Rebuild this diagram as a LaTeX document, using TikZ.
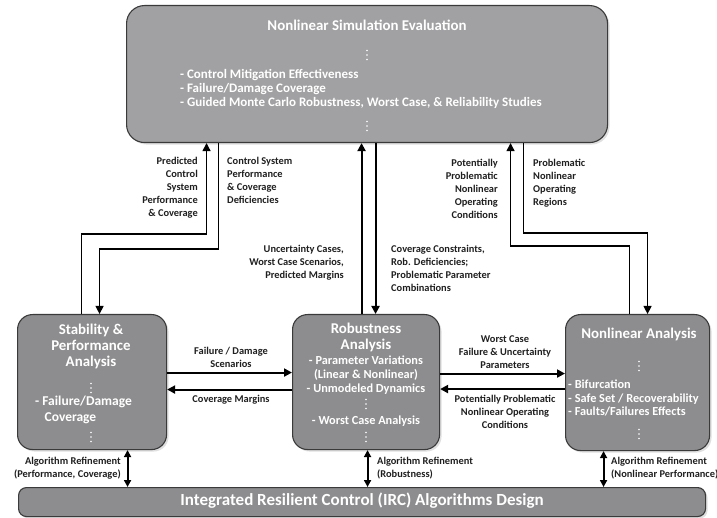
\documentclass[tikz,border=0pt]{standalone}
\usepackage{fontspec}
\setmainfont{Carlito}
\usetikzlibrary{arrows.meta,shadows}

\definecolor{paneltop}{RGB}{161,161,163}
\definecolor{panellow}{RGB}{141,141,143}
\definecolor{panelrim}{RGB}{58,58,58}

\def\labfont{\fontsize{10.4}{13}\selectfont\bfseries}
\def\headfont{\fontsize{14.9}{16}\selectfont\bfseries}
\def\itemfont{\fontsize{12.3}{14}\selectfont\bfseries}

\tikzset{
	panel/.style={draw=panelrim, line width=1.1pt, fill=panellow, rounded corners=15pt, inner sep=0pt, anchor=north west,
		drop shadow={opacity=0.25, shadow xshift=2pt, shadow yshift=-2pt}},
	intext/.style={text=white, inner sep=0pt},
	lab/.style={text=black!88, inner sep=0pt, font=\labfont},
	flow/.style={line width=2pt, -{Triangle[length=8pt,width=8pt]}},
	loop/.style={line width=1.3pt, -{Triangle[length=8pt,width=8pt]}},
	both/.style={line width=2pt, {Triangle[length=7pt,width=7pt]}-{Triangle[length=7pt,width=7pt]}},
	ellip/.pic={\foreach \d in {-4.5,0,4.5} \fill[white] (0,\d) circle (0.9);}
}

\begin{document}
\begin{tikzpicture}[x=1pt, y=-1pt]
			%%%%% START %%%%%
			\useasboundingbox (0,0) rectangle (717,518);
			
			\node[panel, fill=paneltop, rounded corners=18pt, minimum width=481pt, minimum height=137pt] (sim) at (126,5) {};
			\node[panel, minimum width=149pt, minimum height=135pt] (stab) at (17,314) {};
			\node[panel, minimum width=147pt, minimum height=135pt] (rob) at (292,314) {};
			\node[panel, minimum width=144pt, minimum height=136pt] (nla) at (565,314) {};
			\node[panel, rounded corners=8pt, minimum width=687pt, minimum height=29pt] (irc) at (18,487) {};
			
			% simulation panel
			\node[intext, font=\fontsize{14.9}{16}\selectfont\bfseries] (simhead) at (367,25) {Nonlinear Simulation Evaluation};
			\pic at (367,55) {ellip};
			\node[intext, anchor=north west, align=left, font=\fontsize{13}{14}\selectfont\bfseries] (simlist) at (180,69)
				{- Control Mitigation Effectiveness\\- Failure/Damage Coverage\\- Guided Monte Carlo Robustness, Worst Case, \& Reliability Studies};
			\pic at (367,126) {ellip};
			
			% stability panel
			\node[intext, anchor=north, align=center, font=\headfont] (stabhead) at (91,324) {Stability \&\\Performance\\Analysis};
			\pic at (91,388) {ellip};
			\node[intext, anchor=north west, align=left, font=\fontsize{13.5}{16}\selectfont\bfseries] (stablist) at (35,396) {- Failure/Damage\\\hspace*{0.7em}Coverage};
			\pic at (91,437) {ellip};
			
			% robustness panel
			\node[intext, anchor=north, align=center, font=\headfont] (robhead) at (366,323) {Robustness\\Analysis};
			\node[intext, anchor=north, align=center, font=\itemfont] (roblist) at (366,356)
				{- Parameter Variations\\(Linear \& Nonlinear)\\- Unmodeled Dynamics};
			\pic at (366,404) {ellip};
			\node[intext, font=\itemfont] (robworst) at (366,421) {- Worst Case Analysis};
			\pic at (366,437) {ellip};
			
			% nonlinear panel
			\node[intext, font=\headfont] (nlahead) at (639,334) {Nonlinear Analysis};
			\pic at (639,366) {ellip};
			\node[intext, anchor=north west, align=left, font=\fontsize{12.3}{13.5}\selectfont\bfseries] (nlalist) at (568,380)
				{- Bifurcation\\- Safe Set / Recoverability\\- Faults/Failures Effects};
			\pic at (639,434) {ellip};
			
			\node[intext, font=\fontsize{17}{18}\selectfont\bfseries] (irchead) at (362,501) {Integrated Resilient Control (IRC) Algorithms Design};
			
			% loops up and down
			\draw[loop] ([xshift=-10.5pt]stab.north) -- ++(0,-80) -| ([xshift=-160.5pt]sim.south);
			\draw[loop] ([xshift=-148.5pt]sim.south) -- ++(0,106) -| ([xshift=7.5pt]stab.north);
			\draw[flow] ([xshift=-4.5pt]rob.north) -- ([xshift=-4.5pt]rob.north |- sim.south);
			\draw[flow] ([xshift=9.5pt]rob.north |- sim.south) -- ([xshift=9.5pt]rob.north);
			\draw[loop] ([xshift=-8pt]nla.north) -- ++(0,-68) -| ([xshift=143.5pt]sim.south);
			\draw[loop] ([xshift=156.5pt]sim.south) -- ++(0,90) -| ([xshift=10pt]nla.north);
			
			\node[lab, anchor=north east, align=right] (predlab) at (198,157) {Predicted\\Control\\System\\Performance\\\& Coverage};
			\node[lab, anchor=north west, align=left] (deflab) at (227,157) {Control System\\Performance\\\& Coverage\\Deficiencies};
			\node[lab, anchor=north east, align=right] (unclab) at (344,245) {Uncertainty Cases,\\Worst Case Scenarios,\\Predicted Margins};
			\node[lab, anchor=north west, align=left] (covlab) at (391,245) {Coverage Constraints,\\Rob. Deficiencies;\\Problematic Parameter\\Combinations};
			\node[lab, anchor=north east, align=right] (potlab) at (498,159) {Potentially\\Problematic\\Nonlinear\\Operating\\Conditions};
			\node[lab, anchor=north west, align=left] (reglab) at (533,159) {Problematic\\Nonlinear\\Operating\\Regions};
			
			% side to side
			\draw[flow] ([yshift=9.5pt]stab.east) -- ([yshift=9.5pt]stab.east -| rob.west);
			\draw[flow] ([yshift=-7.5pt]rob.west) -- ([yshift=-7.5pt]rob.west -| stab.east);
			\draw[flow] ([yshift=8.5pt]rob.east) -- ([yshift=8.5pt]rob.east -| nla.west);
			\draw[flow] ([yshift=-6.5pt]nla.west) -- ([yshift=-6.5pt]nla.west -| rob.east);
			
			\node[lab, anchor=north, align=center] (faillab) at (231,347) {Failure / Damage\\Scenarios};
			\node[lab, anchor=north] (marglab) at (231,395) {Coverage Margins};
			\node[lab, anchor=north, align=center] (worstlab) at (505,335) {Worst Case\\Failure \& Uncertainty\\Parameters};
			\node[lab, anchor=north, align=center] (condlab) at (505,395) {Potentially Problematic\\Nonlinear Operating\\Conditions};
			
			% refinement
			\draw[both] ([xshift=35.5pt]stab.south) -- ([xshift=35.5pt]stab.south |- irc.north);
			\draw[both] ([xshift=1.5pt]rob.south) -- ([xshift=1.5pt]rob.south |- irc.north);
			\draw[both] ([xshift=-34pt]nla.south) -- ([xshift=-34pt]nla.south |- irc.north);
			
			\node[lab, anchor=north east, align=right] (reflaba) at (121,457) {Algorithm Refinement\\(Performance, Coverage)};
			\node[lab, anchor=north west, align=left] (reflabb) at (377,457) {Algorithm Refinement\\(Robustness)};
			\node[lab, anchor=north west, align=left] (reflabc) at (611,457) {Algorithm Refinement\\(Nonlinear Performance)};
			%%%%% END %%%%%
		\end{tikzpicture}
\end{document}
